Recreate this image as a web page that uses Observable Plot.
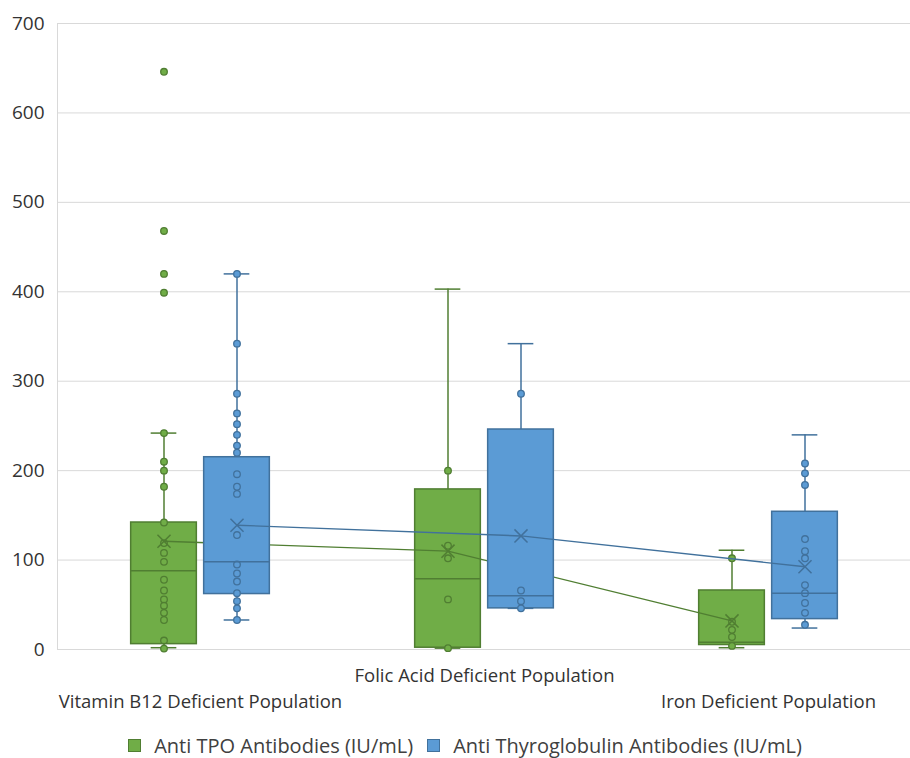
<!DOCTYPE html>
<html><head><meta charset="utf-8">
<script src="https://cdn.jsdelivr.net/npm/d3@7"></script>
<script src="https://cdn.jsdelivr.net/npm/@observablehq/plot@0.6"></script>
<style>
body{margin:0;background:#fff;font-family:"Open Sans",sans-serif;}
#legend{display:flex;justify-content:center;align-items:center;height:26px;margin-top:12px;font-size:20px;color:#404040;padding-left:20px;}
#legend .item{display:flex;align-items:center;margin:0 7px;}
#legend .sw{width:13px;height:13px;margin-right:13px;box-sizing:border-box;}
</style></head><body>
<div id="chart"></div>
<div id="legend"></div>
<script>
const categories = ["Vitamin B12 Deficient Population", "Folic Acid Deficient Population", "Iron Deficient Population"];
const seriesNames = ["Anti TPO Antibodies (IU/mL)", "Anti Thyroglobulin Antibodies (IU/mL)"];
const yTicks = [0, 100, 200, 300, 400, 500, 600, 700];

// Anti TPO box statistics (per category)
const tpoLow = [2, 1.5, 2];
const tpoQ1 = [6, 2, 5];
const tpoMedian = [88, 79, 8];
const tpoQ3 = [142, 179, 66];
const tpoHigh = [242, 403, 111];
const tpoMean = [121, 110, 32];
// Anti TPO data points
const tpoB12 = [646, 468, 420, 399, 242, 210, 200, 182, 142, 119, 108, 98, 78, 66, 56, 49, 41, 33, 10, 1];
const tpoFolic = [200, 116, 102, 56, 1.5];
const tpoIron = [102, 31, 22, 14, 4];

// Anti Thyroglobulin box statistics
const tgLow = [33, 46, 24];
const tgQ1 = [62, 46, 34];
const tgMedian = [98, 60, 63];
const tgQ3 = [215, 246, 154];
const tgHigh = [420, 342, 240];
const tgMean = [139, 127, 92.5];
// Anti Thyroglobulin data points
const tgB12 = [420, 342, 286, 264, 252, 240, 228, 220, 196, 182, 174, 128, 95, 85, 76, 63, 54, 46, 33];
const tgFolic = [286, 66, 54, 46];
const tgIron = [208, 197, 184, 123.5, 110, 102, 72, 63, 52, 41, 27.6];

const colors = [
  {fill: "#70AD47", stroke: "#507E32"},
  {fill: "#5B9BD5", stroke: "#41719C"}
];

function statsTable(low, q1, med, q3, high, mean) {
  return categories.map((c, i) => ({category: c, low: low[i], q1: q1[i], median: med[i], q3: q3[i], high: high[i], mean: mean[i]}));
}
function pointsTable(lists, q1, q3) {
  const out = [];
  lists.forEach((vals, i) => vals.forEach(v => out.push({category: categories[i], value: v, inner: v > q1[i] + 1 && v < q3[i] - 1})));
  return out;
}

const series = [
  {stats: statsTable(tpoLow, tpoQ1, tpoMedian, tpoQ3, tpoHigh, tpoMean), points: pointsTable([tpoB12, tpoFolic, tpoIron], tpoQ1, tpoQ3)},
  {stats: statsTable(tgLow, tgQ1, tgMedian, tgQ3, tgHigh, tgMean), points: pointsTable([tgB12, tgFolic, tgIron], tgQ1, tgQ3)}
];

const width = 910, height = 720, mL = 57, mR = 0;
const band = (width - mL - mR) / categories.length;
const offsets = [-36.5, 36.5];
const boxHalf = 33, capHalf = 13;

function seriesMarks(s, k) {
  const off = offsets[k], col = colors[k];
  const inL = (h) => band / 2 + off - h, inR = (h) => band / 2 - off - h;
  return [
    Plot.ruleX(s.stats, {x: "category", y1: "low", y2: "high", stroke: col.stroke, strokeWidth: 1.5, dx: off}),
    Plot.barY(s.stats, {x: "category", y1: "q1", y2: "q3", fill: col.fill, stroke: col.stroke, strokeWidth: 1.5, insetLeft: inL(boxHalf), insetRight: inR(boxHalf)}),
    Plot.tickY(s.stats, {x: "category", y: "median", stroke: col.stroke, strokeWidth: 1.5, insetLeft: inL(boxHalf), insetRight: inR(boxHalf)}),
    Plot.tickY(s.stats, {x: "category", y: "high", stroke: col.stroke, strokeWidth: 1.5, insetLeft: inL(capHalf), insetRight: inR(capHalf)}),
    Plot.tickY(s.stats, {x: "category", y: "low", stroke: col.stroke, strokeWidth: 1.5, insetLeft: inL(capHalf), insetRight: inR(capHalf)}),
    Plot.line(s.stats, {x: "category", y: "mean", stroke: col.stroke, strokeWidth: 1.4, dx: off}),
    Plot.dot(s.stats, {x: "category", y: "mean", symbol: "times", r: 6, stroke: col.stroke, strokeWidth: 1.5, dx: off}),
    Plot.dot(s.points, {x: "category", y: "value", r: 3.3, dx: off, stroke: col.stroke, strokeWidth: 1.3, fill: d => d.inner ? "none" : col.fill})
  ];
}

const chart = Plot.plot({
  width, height,
  marginTop: 23, marginBottom: 71, marginLeft: mL, marginRight: mR,
  style: {fontFamily: "'Open Sans', sans-serif", fontSize: "19px", color: "#404040", background: "#fff"},
  x: {type: "band", domain: categories, padding: 0, axis: null},
  y: {domain: [0, 700], axis: null},
  marks: [
    Plot.gridY(yTicks, {stroke: "#d9d9d9", strokeOpacity: 1, strokeWidth: 1}),
    Plot.frame({anchor: "left", stroke: "#d9d9d9"}),
    Plot.axisY(yTicks, {tickSize: 0, tickPadding: 13, fontSize: 19, fill: "#333333"}),
    ...seriesMarks(series[0], 0),
    ...seriesMarks(series[1], 1),
    Plot.text(categories.filter((d, i) => i !== 1), {x: d => d, text: d => d, frameAnchor: "bottom", dy: 58, fontSize: 18.5, fill: "#333333"}),
    Plot.text(categories.filter((d, i) => i === 1), {x: d => d, text: d => d, frameAnchor: "bottom", dy: 32, fontSize: 18.5, fill: "#333333"})
  ]
});
document.getElementById("chart").appendChild(chart);

const legend = document.getElementById("legend");
seriesNames.forEach((name, k) => {
  const item = document.createElement("div");
  item.className = "item";
  const sw = document.createElement("span");
  sw.className = "sw";
  sw.style.background = colors[k].fill;
  sw.style.border = "1px solid " + colors[k].stroke;
  const t = document.createElement("span");
  t.textContent = name;
  item.appendChild(sw); item.appendChild(t);
  legend.appendChild(item);
});
</script>
</body></html>
